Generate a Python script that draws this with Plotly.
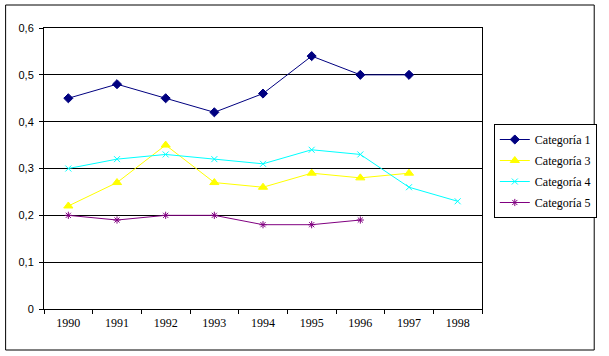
import plotly.graph_objects as go

years = ["1990", "1991", "1992", "1993", "1994", "1995", "1996", "1997", "1998"]
cat1 = [0.45, 0.48, 0.45, 0.42, 0.46, 0.54, 0.50, 0.50, None]
cat3 = [0.22, 0.27, 0.35, 0.27, 0.26, 0.29, 0.28, 0.29, None]
cat4 = [0.30, 0.32, 0.33, 0.32, 0.31, 0.34, 0.33, 0.26, 0.23]
cat5 = [0.20, 0.19, 0.20, 0.20, 0.18, 0.18, 0.19, None, None]
names = ["Categoría 1", "Categoría 3", "Categoría 4", "Categoría 5"]
y_tick_vals = [0, 0.1, 0.2, 0.3, 0.4, 0.5, 0.6]
y_tick_text = ["0", "0,1", "0,2", "0,3", "0,4", "0,5", "0,6"]

series = [cat1, cat3, cat4, cat5]
colors = ["#000080", "#FFFF00", "#00FFFF", "#800080"]
symbols = ["diamond", "triangle-up", "x-thin-open", "asterisk-open"]
sizes = [7, 8, 6, 6]

fig = go.Figure()
for i, (vals, name, c, s, sz) in enumerate(zip(series, names, colors, symbols, sizes)):
    fig.add_trace(go.Scatter(
        x=years, y=vals, name=name, mode="lines+markers",
        legendgroup="g%d" % i,
        line=dict(color=c, width=1),
        marker=dict(symbol=s, size=sz, color=c, line=dict(color=c, width=1)),
        connectgaps=False,
    ))

L, R, T, B = 44, 489, 28, 309
W, H = 609, 356
pw, ph = R - L, B - T

def px(x):
    return (x - L) / pw

def py(y):
    return (B - y) / ph

fig.update_layout(
    width=W, height=H,
    margin=dict(l=L, r=W - R, t=T, b=H - B, pad=0),
    paper_bgcolor="white", plot_bgcolor="white",
    font=dict(family="Liberation Serif", size=12, color="black"),
    showlegend=True,
    legend=dict(
        x=px(501), y=py(124), xanchor="left", yanchor="top",
        bordercolor="black", borderwidth=1, bgcolor="white",
        font=dict(family="Liberation Serif", size=12, color="black"),
        tracegroupgap=2,
    ),
    xaxis=dict(
        type="category", range=[-0.5, 8.5],
        showgrid=False, zeroline=False,
        showline=True, linecolor="black", linewidth=1, mirror=True,
        ticks="outside", tickson="boundaries", ticklen=4, tickcolor="black",
        tickfont=dict(family="Liberation Serif", size=12),
        ticklabelstandoff=3,
        fixedrange=True,
    ),
    yaxis=dict(
        range=[0, 0.6],
        tickvals=y_tick_vals, ticktext=y_tick_text,
        showgrid=True, gridcolor="black", gridwidth=1,
        zeroline=False,
        showline=True, linecolor="black", linewidth=1, mirror=True,
        ticks="outside", ticklen=4, tickcolor="black",
        tickfont=dict(family="Liberation Sans", size=11),
        ticklabelstandoff=3,
        fixedrange=True,
    ),
    shapes=[dict(
        type="rect", xref="paper", yref="paper",
        x0=px(5), x1=px(603), y0=py(350), y1=py(5),
        line=dict(color="black", width=1), fillcolor="rgba(0,0,0,0)",
        layer="below",
    )],
)

fig.write_html(
    "out.html",
    config={"displayModeBar": False},
    post_script="document.body.style.margin='0';document.body.style.padding='0';",
)
